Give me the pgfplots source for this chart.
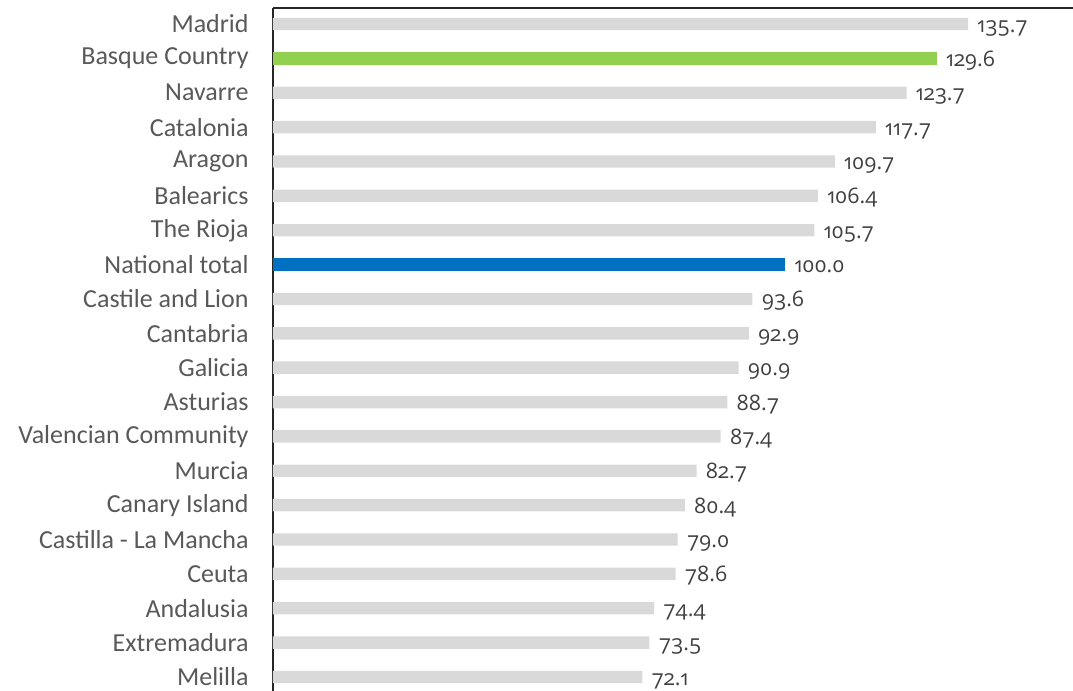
\documentclass[border=0pt]{standalone}
\usepackage{fontspec}
\setmainfont{Carlito}
\newfontfamily\valfont{Open Sans}[Numbers=OldStyle]
\usepackage{pgfplots}
\pgfplotsset{compat=1.18}
\definecolor{bargray}{HTML}{D9D9D9}
\definecolor{bargreen}{HTML}{92D050}
\definecolor{barblue}{HTML}{0070C0}
\definecolor{labgray}{HTML}{595959}
\definecolor{valgray}{HTML}{404040}
\begin{document}
\begin{tikzpicture}
\begin{axis}[
  at={(0,0)}, anchor=south west,
  scale only axis, width=400pt, height=341.5pt,
  xmin=0, xmax=156.2, ymin=-0.407, ymax=19.466,
  axis x line=top, axis y line=left,
  x axis line style={-}, y axis line style={-},
  axis line style={black!85, line width=0.7pt},
  xtick=\empty,
  ytick={0,...,19},
  yticklabels={Melilla,Extremadura,Andalusia,Ceuta,Castilla - La Mancha,Canary Island,Murcia,Valencian Community,Asturias,Galicia,Cantabria,Castile and Lion,National total,The Rioja,Balearics,Aragon,Catalonia,Navarre,Basque Country,Madrid},
  major tick length=0pt,
  yticklabel style={font=\fontsize{13}{15}\selectfont, text=labgray, inner sep=0pt, xshift=-12pt},
  xbar, bar width=6.2pt, bar shift=0pt,
  nodes near coords,
  nodes near coords style={font=\valfont\fontsize{10.7}{12}\selectfont, text=valgray, anchor=base west, inner sep=0pt, xshift=4.5pt, yshift=-4pt,
    /pgf/number format/.cd, fixed, fixed zerofill, precision=1, assume math mode=true},
  clip=false,
]
\addplot[draw=none, fill=bargray] coordinates {
(72.1,0) (73.5,1) (74.4,2) (78.6,3) (79.0,4) (80.4,5) (82.7,6) (87.4,7) (88.7,8) (90.9,9) (92.9,10) (93.6,11)
(105.7,13) (106.4,14) (109.7,15) (117.7,16) (123.7,17) (135.7,19)};
\addplot[draw=none, fill=barblue] coordinates {(100.0,12)};
\addplot[draw=none, fill=bargreen] coordinates {(129.6,18)};
\end{axis}
\pgfresetboundingbox
\path (-136.5pt,0) rectangle (400pt,345.5pt);
\end{tikzpicture}
\end{document}
